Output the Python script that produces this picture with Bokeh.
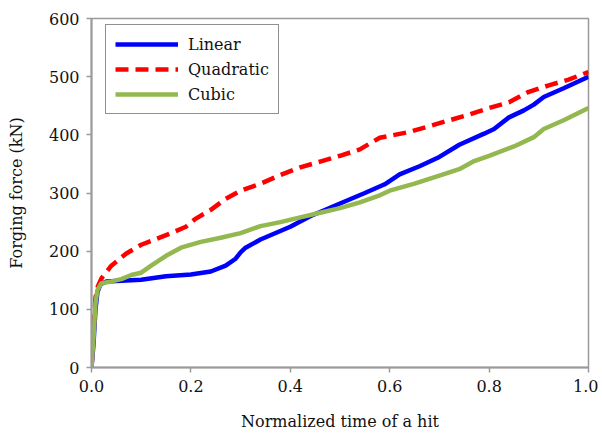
from bokeh.plotting import figure
from bokeh.embed import file_html
from bokeh.resources import INLINE
from bokeh.models import Range1d, FixedTicker, NumeralTickFormatter, Legend, LegendItem

lin_x = [0.0, 0.004, 0.008, 0.012, 0.018, 0.03, 0.06, 0.1, 0.15, 0.2, 0.24, 0.27, 0.29, 0.3, 0.31, 0.34, 0.4, 0.44, 0.5, 0.55, 0.59, 0.62, 0.66, 0.7, 0.74, 0.79, 0.81, 0.84, 0.87, 0.89, 0.91, 0.95, 1.0]
lin_y = [0, 40, 100, 130, 143, 148, 149, 151, 157, 160, 165, 175, 187, 198, 206, 220, 242, 260, 282, 300, 315, 332, 346, 362, 383, 402, 410, 430, 442, 452, 465, 480, 500]

quad_x = [0.0, 0.004, 0.008, 0.013, 0.02, 0.04, 0.07, 0.1, 0.13, 0.16, 0.19, 0.21, 0.24, 0.27, 0.3, 0.34, 0.38, 0.42, 0.46, 0.5, 0.54, 0.58, 0.64, 0.7, 0.76, 0.8, 0.84, 0.88, 0.92, 0.96, 1.0]
quad_y = [0, 60, 120, 140, 153, 175, 196, 211, 221, 231, 242, 256, 271, 290, 304, 316, 331, 344, 354, 364, 375, 395, 405, 420, 435, 446, 456, 474, 485, 495, 508]

cub_x = [0.0, 0.004, 0.008, 0.012, 0.02, 0.04, 0.06, 0.08, 0.1, 0.12, 0.15, 0.18, 0.22, 0.26, 0.3, 0.34, 0.38, 0.42, 0.46, 0.5, 0.54, 0.58, 0.6, 0.65, 0.7, 0.74, 0.77, 0.8, 0.85, 0.89, 0.91, 0.95, 1.0]
cub_y = [0, 50, 110, 133, 145, 148, 152, 159, 163, 175, 192, 206, 216, 223, 231, 243, 250, 258, 266, 274, 284, 296, 304, 316, 330, 341, 355, 364, 380, 396, 410, 425, 446]

x_ticks = [0.0, 0.2, 0.4, 0.6, 0.8, 1.0]
y_ticks = [0, 100, 200, 300, 400, 500, 600]

FONT = "'DejaVu Serif', 'Liberation Serif', serif"

p = figure(width=598, height=433, output_backend="svg", toolbar_location=None,
           x_range=Range1d(0, 1), y_range=Range1d(0, 600),
           min_border_left=91, min_border_right=10, min_border_top=18, min_border_bottom=64)
p.grid.visible = False
p.outline_line_color = "#9a9a9a"
p.outline_line_width = 1.5

for ax in (p.xaxis[0], p.yaxis[0]):
    ax.axis_line_color = "#9a9a9a"
    ax.axis_line_width = 2
    ax.major_tick_line_color = "#9a9a9a"
    ax.major_tick_line_width = 1.5
    ax.major_tick_out = 5
    ax.major_tick_in = 0
    ax.minor_tick_line_color = None
    ax.major_label_text_font = FONT
    ax.major_label_text_font_size = "16px"
    ax.major_label_text_color = "#111111"
    ax.axis_label_text_font = FONT
    ax.axis_label_text_font_size = "16px"
    ax.axis_label_text_font_style = "normal"
    ax.axis_label_text_color = "#111111"

p.xaxis.ticker = FixedTicker(ticks=x_ticks)
p.yaxis.ticker = FixedTicker(ticks=y_ticks)
p.xaxis.formatter = NumeralTickFormatter(format="0.0")
p.xaxis.axis_label = "Normalized time of a hit"
p.yaxis.axis_label = "Forging force (kN)"
p.xaxis.major_label_standoff = 7
p.xaxis.axis_label_standoff = 17
p.yaxis.major_label_standoff = 7
p.yaxis.axis_label_standoff = 20

r1 = p.line(lin_x, lin_y, line_color="#0000ff", line_width=4.5)
r2 = p.line(quad_x, quad_y, line_color="#ff0000", line_width=4.5, line_dash="13 7")
r3 = p.line(cub_x, cub_y, line_color="#93b84f", line_width=4.5)

legend = Legend(items=[LegendItem(label="Linear", renderers=[r1]),
                       LegendItem(label="Quadratic", renderers=[r2]),
                       LegendItem(label="Cubic", renderers=[r3])],
                location=(14, 253))
legend.label_text_font = FONT
legend.label_text_font_size = "16px"
legend.label_text_color = "#111111"
legend.glyph_width = 63
legend.glyph_height = 20
legend.label_height = 20
legend.spacing = 5
legend.padding = 9
legend.margin = 0
legend.label_standoff = 10
legend.border_line_color = "#222222"
legend.border_line_width = 1
legend.background_fill_alpha = 1
p.add_layout(legend, "center")

open("out.html", "w").write(file_html(p, INLINE))
